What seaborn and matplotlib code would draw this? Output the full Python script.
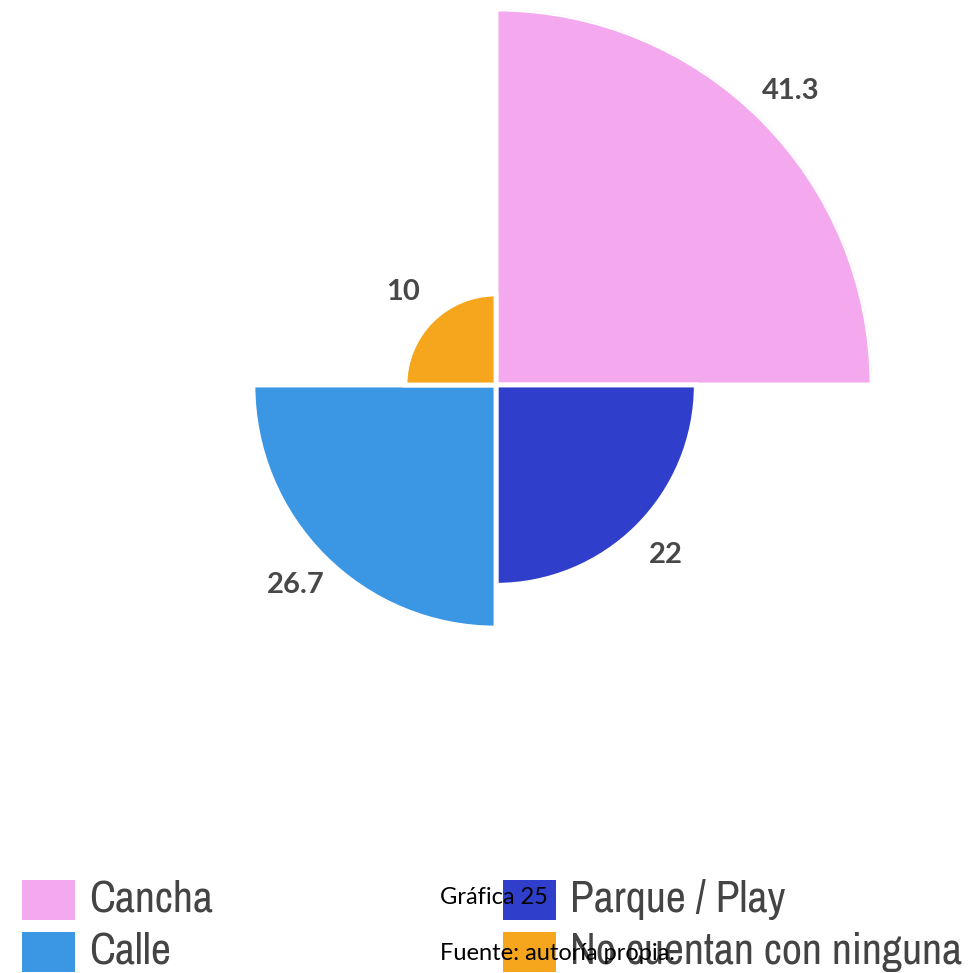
import numpy as np
import matplotlib
matplotlib.use("Agg")
import matplotlib.pyplot as plt
from matplotlib import font_manager
import seaborn as sns
import pandas as pd

# Survey categories in clockwise order starting from 12 o'clock
categories = ["Cancha", "Parque / Play", "Calle", "No cuentan con ninguna"]
values = [41.3, 22, 26.7, 10]
colors = ["#F4A9EF", "#2F3FCC", "#3B97E4", "#F5A61C"]
legend_order = ["Cancha", "Calle", "Parque / Play", "No cuentan con ninguna"]
caption = "Gráfica 25"
source = "Fuente: autoría propia."

sns.set_theme(style="white")
plt.rcParams["font.family"] = ["Lato", "DejaVu Sans"]

# Prefer a narrow face for the legend labels when one is installed
narrow = sorted({f.name for f in font_manager.fontManager.ttflist
                 if "Narrow" in f.name or "Condensed" in f.name})
legend_family = narrow[:1] + ["Lato", "DejaVu Sans"]
legend_size = 31.5 if narrow else 26

df = pd.DataFrame({"categoria": categories, "valor": values, "color": colors})
n = len(df)
width = 2 * np.pi / n
df["theta"] = np.arange(n) * width + width / 2

W = 973
fig = plt.figure(figsize=(W / 100, W / 100), dpi=100)
fig.patch.set_facecolor("white")

# Polar area chart: radius proportional to the value
R = 376
cx, cy = 496, 385
ax = fig.add_axes([(cx - R) / W, (W - cy - R) / W, 2 * R / W, 2 * R / W], projection="polar")
ax.set_theta_zero_location("N")
ax.set_theta_direction(-1)
ax.bar(df["theta"], df["valor"], width=width, color=df["color"],
       edgecolor="white", linewidth=3.5, align="center")
ax.set_ylim(0, df["valor"].max())
ax.set_axis_off()

for t, v in zip(df["theta"], df["valor"]):
    ax.text(t, v + 4.4, f"{v:g}", ha="center", va="center",
            fontsize=21, color="#484848", fontweight="bold")

# Legend in two columns below the chart
color_of = dict(zip(categories, colors))
slots = [(22, 880), (22, 932), (503, 880), (503, 932)]
for name, (x, y) in zip(legend_order, slots):
    fig.patches.append(plt.Rectangle((x / W, 1 - (y + 40) / W), 53 / W, 40 / W,
                                     transform=fig.transFigure, facecolor=color_of[name],
                                     edgecolor="none"))
    fig.text((x + 67) / W, 1 - (y + 20) / W, name, ha="left", va="center",
             fontsize=legend_size, color="#444444", family=legend_family)

fig.text(440 / W, 1 - 897 / W, caption, ha="left", va="center", fontsize=17, color="black")
fig.text(440 / W, 1 - 953 / W, source, ha="left", va="center", fontsize=17, color="black")

fig.savefig("out.png", dpi=100, facecolor="white")
